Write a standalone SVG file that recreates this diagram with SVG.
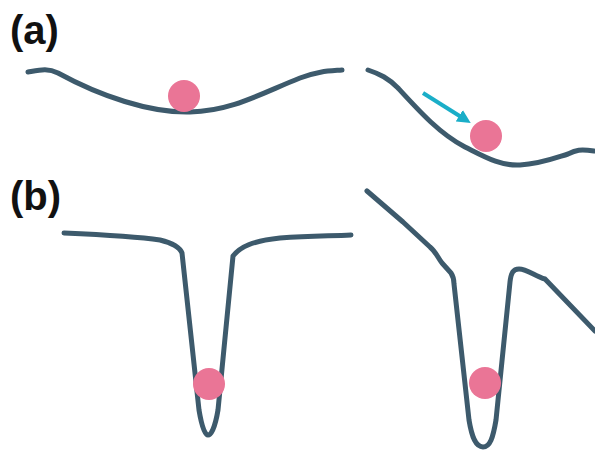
<svg xmlns="http://www.w3.org/2000/svg" width="595" height="454" viewBox="0 0 595 454">
<style>
.curve{fill:none;stroke:#3d5a6c;stroke-width:5;stroke-linecap:round;stroke-linejoin:round}
.ball{fill:#ea7596}
.lbl{font-family:"Liberation Sans",Arial,sans-serif;font-weight:bold;font-size:40px;fill:#111}
</style>
<defs>
<marker id="ah" markerWidth="3.4" markerHeight="3.4" refX="2" refY="1.7" orient="auto" markerUnits="strokeWidth">
<path d="M0,0 L3.4,1.7 L0,3.4 Z" fill="#1aaec8"/>
</marker>
</defs>
<rect width="595" height="454" fill="#fff"/>
<text class="lbl" x="10" y="44">(a)</text>
<text class="lbl" x="10" y="210">(b)</text>
<g id="curve-a-left"><path class="curve" d="M28,72 C40,70 48,68 58,73 C100,96 150,113 190,112 C232,111 262,93 300,78 C318,71 330,71 342,70"/></g>
<g id="ball-a-left"><circle class="ball" cx="184" cy="96" r="16"/></g>
<g id="curve-a-right"><path class="curve" d="M368,70 C380,74 388,78 398,88 C420,112 440,134 465,147 C485,157 500,166 520,165 C540,164 555,158 568,154 C576,150 580,149 594,151"/></g>
<g id="ball-a-right"><circle class="ball" cx="486" cy="136" r="16"/></g>
<g id="curve-b-left"><path class="curve" d="M64,233 C110,235 140,237 160,240 C172,243 180,248 182,253 L199,410 C202,428 205,435 208,435 C211,435 215,428 218,410 L233,256 C240,247 252,241 280,238 C310,236 330,236 351,235"/></g>
<g id="ball-b-left"><circle class="ball" cx="209" cy="384" r="16"/></g>
<g id="curve-b-right"><path class="curve" d="M367,191 L403,222 L430,247 C436,252 438,258 442,263 L451,273 C453,276 454,280 454,284 L469,420 C472,438 476,447 483,447 C490,447 493,438 496,420 L510,282 C511,273 513,269 519,269 C527,269 535,276 545,279 L595,331"/></g>
<g id="ball-b-right"><circle class="ball" cx="485" cy="383" r="16"/></g>
<g id="connectors"><line x1="423" y1="93" x2="466" y2="120" stroke="#1aaec8" stroke-width="4" marker-end="url(#ah)"/></g>
</svg>
